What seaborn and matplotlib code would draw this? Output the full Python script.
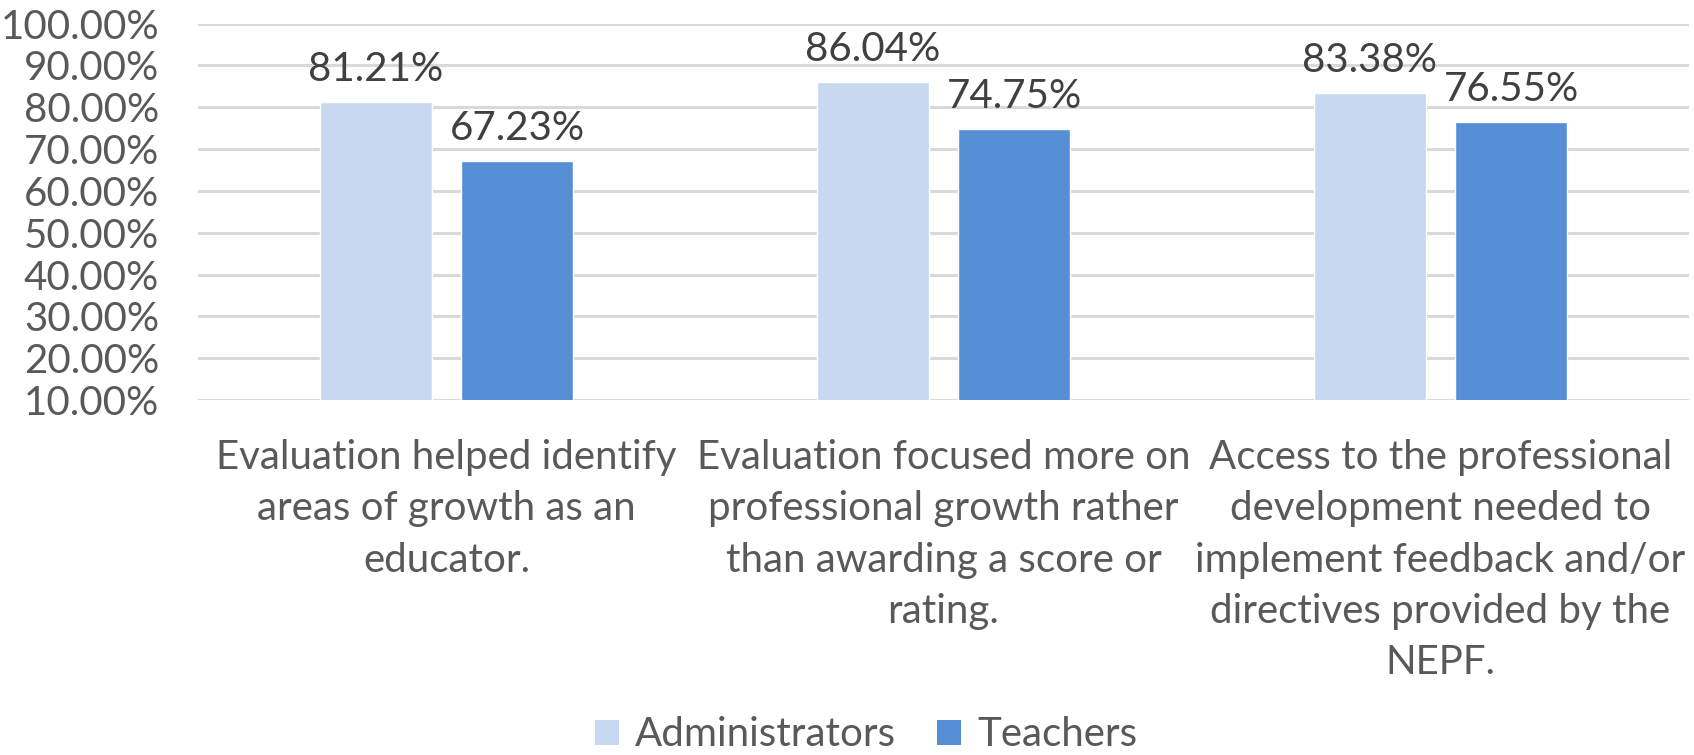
import matplotlib
matplotlib.use("Agg")
import matplotlib.pyplot as plt
import seaborn as sns
import pandas as pd
from matplotlib.patches import Patch
from matplotlib.ticker import FuncFormatter, FixedLocator

categories = [
    "Evaluation helped identify\nareas of growth as an\neducator.",
    "Evaluation focused more on\nprofessional growth rather\nthan awarding a score or\nrating.",
    "Access to the professional\ndevelopment needed to\nimplement feedback and/or\ndirectives provided by the\nNEPF.",
]
series = ["Administrators", "Teachers"]
administrators = [81.21, 86.04, 83.38]
teachers = [67.23, 74.75, 76.55]
colors = ["#C6D9F0", "#558ED5"]
yticks = [10, 20, 30, 40, 50, 60, 70, 80, 90, 100]

df = pd.DataFrame({
    "category": categories * 2,
    "group": [series[0]] * 3 + [series[1]] * 3,
    "value": administrators + teachers,
})

sns.set_style("white")
plt.rcParams["font.family"] = ["Lato", "DejaVu Sans"]

W, H = 1694, 755
fig = plt.figure(figsize=(W / 100, H / 100), dpi=100)
ax = fig.add_axes([198 / W, 1 - 400 / H, (1689 - 198) / W, (400 - 23.5) / H])

sns.barplot(data=df, x="category", y="value", hue="group", order=categories,
            hue_order=series, palette=colors, width=0.569, gap=0.21,
            ax=ax, legend=False, saturation=1)

ax.set_ylim(10, 100)
ax.yaxis.set_major_locator(FixedLocator(yticks))
ax.yaxis.set_major_formatter(FuncFormatter(lambda v, p: f"{v:.2f}%"))
ax.grid(axis="y", color="#D9D9D9", linewidth=2.2)
ax.set_axisbelow(True)
for s in ax.spines.values():
    s.set_visible(False)
ax.set_xlabel("")
ax.set_ylabel("")
ax.tick_params(axis="y", length=0, pad=28, labelsize=29, labelcolor="#595959")
ax.tick_params(axis="x", length=0, pad=28, labelsize=29, labelcolor="#595959")
for lbl in ax.get_xticklabels():
    lbl.set_linespacing(1.48)

for cont in ax.containers:
    ax.bar_label(cont, labels=[f"{v:.2f}%" for v in cont.datavalues],
                 padding=10, fontsize=29, color="#404040")

handles = [Patch(facecolor=c, edgecolor="none", label=s) for s, c in zip(series, colors)]
fig.legend(handles=handles, loc="center", bbox_to_anchor=(866 / W, 1 - 735 / H),
           ncol=2, frameon=False, fontsize=29, labelcolor="#595959",
           handlelength=0.6, handleheight=0.6, handletextpad=0.4, columnspacing=1.0)

fig.savefig("out.png", dpi=100)
